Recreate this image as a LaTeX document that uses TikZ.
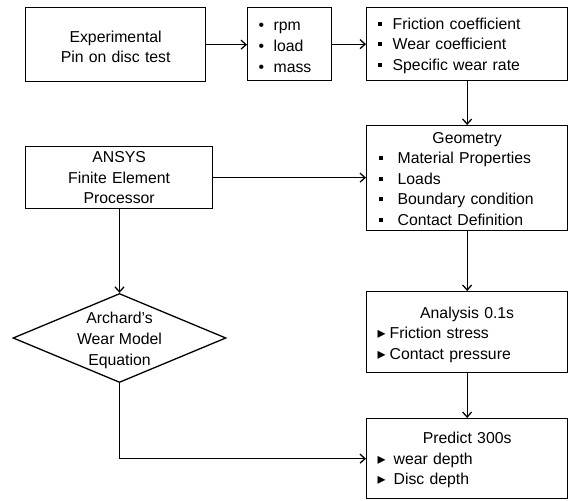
\documentclass[tikz,border=0pt]{standalone}
\usepackage{fontspec}
\setmainfont{Liberation Sans}
\newfontfamily\symf{DejaVu Sans}
\usetikzlibrary{shapes.geometric,arrows.meta}
\newcommand\rb{\makebox[15pt][l]{•}}
\newcommand\sqb[1]{\makebox[#1][l]{\rule[3.5pt]{4pt}{4pt}}}
\newcommand\trb[1]{\makebox[#1][l]{\hspace{-1pt}{\symf\fontsize{16}{16}\selectfont ▸}}}
\newcommand\tallstrut[1]{\rule{0pt}{#1}}
\begin{document}
\begin{tikzpicture}[x=1pt,y=-1pt,
  font=\fontsize{15.8}{20.6}\selectfont,
  box/.style={draw, line width=1.3pt, rectangle, inner ysep=1pt, anchor=north west},
  arr/.style={-{Straight Barb[length=5pt,width=9pt]}, line width=1.3pt}]
\useasboundingbox (0,0) rectangle (568,501);

\node[box, minimum width=180pt, minimum height=74pt, text width=170pt, inner xsep=5pt, align=center] (exp) at (25,7) {\tallstrut{15.5pt}Experimental\\Pin on disc test};

\node[box, minimum width=84pt, minimum height=73pt, text width=62pt, inner xsep=11pt, align=left] (par) at (247,7) {\tallstrut{14.8pt}\rb rpm\\\rb load\\\rb mass};

\node[box, minimum width=201pt, minimum height=73pt, text width=179pt, inner xsep=11pt, align=left] (coef) at (366,7) {\tallstrut{14.5pt}\sqb{15pt}Friction coefficient\\\sqb{15pt}Wear coefficient\\\sqb{15pt}Specific wear rate};

\node[box, minimum width=201pt, minimum height=105pt, text width=177pt, inner xsep=12pt] (geom) at (366,125) {{\centering\tallstrut{12.3pt}Geometry\par}\raggedright\sqb{19pt}Material Properties\par\sqb{19pt}Loads\par\sqb{19pt}Boundary condition\par\sqb{19pt}Contact Definition\par};

\node[box, minimum width=187pt, minimum height=62pt, text width=177pt, inner xsep=5pt, align=center] (ansys) at (25,146) {ANSYS\\Finite Element\\Processor};

\node[draw, diamond, line width=1.3pt, minimum width=213pt, minimum height=89pt, inner sep=0pt] (arch) at (119.5,338) {};
\node[align=center, inner sep=0pt, yshift=-2.5pt] (archtxt) at (arch.center) {Archard's\\Wear Model\\Equation};

\node[box, minimum width=201pt, minimum height=81pt, text width=177pt, inner xsep=12pt] (ana) at (366,291) {{\centering\tallstrut{16.5pt}Analysis 0.1s\par}\raggedright\trb{11pt}Friction stress\par\trb{11pt}Contact pressure\par};

\node[box, minimum width=201pt, minimum height=80pt, text width=177pt, inner xsep=12pt] (pred) at (366,418) {{\centering\tallstrut{14.5pt}Predict 300s\par}\raggedright\trb{15pt}wear depth\par\trb{15pt}Disc depth\par};

\coordinate (bend) at (arch.south |- pred.west);

\draw[arr] (exp.east) -- (exp.east -| par.west);
\draw[arr] (par.east) -- (par.east -| coef.west);
\draw[arr] (coef.south) -- (geom.north);
\draw[arr] (ansys.east) -- (ansys.east -| geom.west);
\draw[arr] (geom.south) -- (ana.north);
\draw[arr] (ana.south) -- (pred.north);
\draw[arr] (ansys.south -| arch.north) -- (arch.north);
\draw[arr] (arch.south) -- (bend) -- (pred.west);
\end{tikzpicture}
\end{document}
